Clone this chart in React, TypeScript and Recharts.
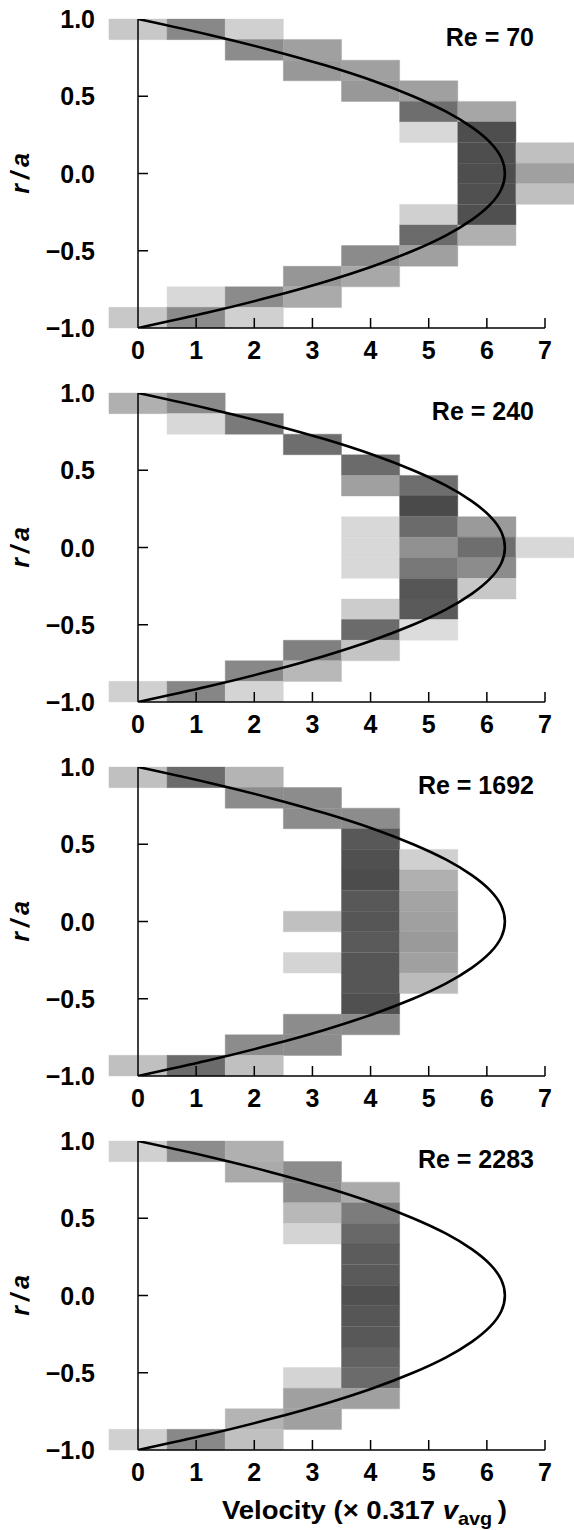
import React from 'react';
import { ComposedChart, Line, XAxis, YAxis, ReferenceArea } from 'recharts';

// velocity bins (x, unit 0.317 v_avg) and radial bins (r/a, 15 rows from top to bottom)
const VELOCITY_BINS = [0, 1, 2, 3, 4, 5, 6, 7];
const RADIUS_BINS = [0.933, 0.8, 0.667, 0.533, 0.4, 0.267, 0.133, 0, -0.133, -0.267, -0.4, -0.533, -0.667, -0.8, -0.933];
const X_TICKS = [0, 1, 2, 3, 4, 5, 6, 7];
const Y_TICKS = [-1, -0.5, 0, 0.5, 1];

// relative density in each (radius row, velocity bin); 0 = empty
const re70 = [
  [0.19, 0.59, 0.14, 0, 0, 0, 0, 0],
  [0, 0, 0.56, 0.44, 0, 0, 0, 0],
  [0, 0, 0, 0.49, 0.44, 0, 0, 0],
  [0, 0, 0, 0, 0.49, 0.44, 0, 0],
  [0, 0, 0, 0, 0, 0.75, 0.4, 0],
  [0, 0, 0, 0, 0, 0.09, 0.95, 0],
  [0, 0, 0, 0, 0, 0, 0.95, 0.24],
  [0, 0, 0, 0, 0, 0, 0.95, 0.44],
  [0, 0, 0, 0, 0, 0, 0.94, 0.24],
  [0, 0, 0, 0, 0, 0.14, 0.94, 0],
  [0, 0, 0, 0, 0, 0.77, 0.34, 0],
  [0, 0, 0, 0, 0.57, 0.44, 0, 0],
  [0, 0, 0, 0.5, 0.39, 0, 0, 0],
  [0, 0.09, 0.57, 0.375, 0, 0, 0, 0],
  [0.19, 0.57, 0.14, 0, 0, 0, 0, 0],
];

const re240 = [
  [0.34, 0.57, 0, 0, 0, 0, 0, 0],
  [0, 0.09, 0.675, 0, 0, 0, 0, 0],
  [0, 0, 0, 0.75, 0, 0, 0, 0],
  [0, 0, 0, 0, 0.77, 0, 0, 0],
  [0, 0, 0, 0, 0.44, 0.75, 0, 0],
  [0, 0, 0, 0, 0, 0.975, 0, 0],
  [0, 0, 0, 0, 0.09, 0.77, 0.475, 0],
  [0, 0, 0, 0, 0.09, 0.53, 0.75, 0.09],
  [0, 0, 0, 0, 0.09, 0.69, 0.56, 0],
  [0, 0, 0, 0, 0, 0.9, 0.19, 0],
  [0, 0, 0, 0, 0.16, 0.875, 0, 0],
  [0, 0, 0, 0, 0.77, 0.06, 0, 0],
  [0, 0, 0, 0.64, 0.21, 0, 0, 0],
  [0, 0, 0.59, 0.29, 0, 0, 0, 0],
  [0.14, 0.6, 0.11, 0, 0, 0, 0, 0],
];

const re1692 = [
  [0.24, 0.77, 0.31, 0, 0, 0, 0, 0],
  [0, 0, 0.56, 0.56, 0, 0, 0, 0],
  [0, 0, 0, 0.56, 0.56, 0, 0, 0],
  [0, 0, 0, 0, 0.89, 0, 0, 0],
  [0, 0, 0, 0, 0.94, 0.14, 0, 0],
  [0, 0, 0, 0, 0.96, 0.34, 0, 0],
  [0, 0, 0, 0, 0.89, 0.41, 0, 0],
  [0, 0, 0, 0.24, 0.9, 0.44, 0, 0],
  [0, 0, 0, 0, 0.875, 0.475, 0, 0],
  [0, 0, 0, 0.11, 0.9, 0.44, 0, 0],
  [0, 0, 0, 0, 0.9, 0.27, 0, 0],
  [0, 0, 0, 0, 0.94, 0, 0, 0],
  [0, 0, 0, 0.56, 0.56, 0, 0, 0],
  [0, 0, 0.56, 0.56, 0, 0, 0, 0],
  [0.24, 0.77, 0.24, 0, 0, 0, 0, 0],
];

const re2283 = [
  [0.14, 0.56, 0.34, 0, 0, 0, 0, 0],
  [0, 0, 0.375, 0.56, 0, 0, 0, 0],
  [0, 0, 0, 0.56, 0.375, 0, 0, 0],
  [0, 0, 0, 0.29, 0.66, 0, 0, 0],
  [0, 0, 0, 0.11, 0.79, 0, 0, 0],
  [0, 0, 0, 0, 0.86, 0, 0, 0],
  [0, 0, 0, 0, 0.875, 0, 0, 0],
  [0, 0, 0, 0, 0.94, 0, 0, 0],
  [0, 0, 0, 0, 0.9, 0, 0, 0],
  [0, 0, 0, 0, 0.89, 0, 0, 0],
  [0, 0, 0, 0, 0.825, 0, 0, 0],
  [0, 0, 0, 0.11, 0.77, 0, 0, 0],
  [0, 0, 0, 0.44, 0.44, 0, 0, 0],
  [0, 0, 0.31, 0.44, 0, 0, 0, 0],
  [0.14, 0.59, 0.24, 0, 0, 0, 0, 0],
];

// laminar (Poiseuille) profile
const profileR = [-1, -0.9, -0.8, -0.7, -0.6, -0.5, -0.4, -0.3, -0.2, -0.1, 0, 0.1, 0.2, 0.3, 0.4, 0.5, 0.6, 0.7, 0.8, 0.9, 1];
const profileV = [0, 1.2, 2.27, 3.22, 4.04, 4.73, 5.3, 5.74, 6.06, 6.25, 6.31, 6.25, 6.06, 5.74, 5.3, 4.73, 4.04, 3.22, 2.27, 1.2, 0];

const panels = [
  { label: 'Re = 70', cells: re70 },
  { label: 'Re = 240', cells: re240 },
  { label: 'Re = 1692', cells: re1692 },
  { label: 'Re = 2283', cells: re2283 },
];

const FONT = '"Liberation Sans", Arial, Helvetica, sans-serif';
const PANEL_H = 374;
const LAST_H = 408;
const TOP = 19;
const PLOT_H = 309;
const PLOT_LEFT = 138;
const RIGHT = 29;
const ROW_HALF = 1 / 15;

const grey = (d: number) => {
  const g = Math.round(230 - d * 160);
  return `rgb(${g},${g},${g})`;
};

const fmt = (v: number) => (v < 0 ? '\u2212' + Math.abs(v).toFixed(1) : v.toFixed(1));

const YTick = (props: any) => {
  const { y, payload } = props;
  const v = payload.value;
  return (
    <g>
      {Math.abs(v) < 1 && (
        <line x1={PLOT_LEFT} x2={PLOT_LEFT + 10} y1={y} y2={y} stroke="#000" strokeWidth={1.5} />
      )}
      <text x={PLOT_LEFT - 43} y={y + 9} textAnchor="end" fontFamily={FONT} fontWeight="bold" fontSize={25} fill="#000">
        {fmt(v)}
      </text>
    </g>
  );
};

const XTick = (props: any) => {
  const { x, payload } = props;
  const axisY = TOP + PLOT_H;
  return (
    <g>
      {payload.value !== 0 && (
        <line x1={x} x2={x} y1={axisY} y2={axisY - 10} stroke="#000" strokeWidth={1.5} />
      )}
      <text x={x} y={axisY + 31} textAnchor="middle" fontFamily={FONT} fontWeight="bold" fontSize={25} fill="#000">
        {payload.value}
      </text>
    </g>
  );
};

function Panel({ label, cells, last }: { label: string; cells: number[][]; last: boolean }) {
  const h = last ? LAST_H : PANEL_H;
  const data = profileR.map((r, i) => ({ v: profileV[i], r }));
  const midY = TOP + PLOT_H / 2;
  return (
    <ComposedChart width={574} height={h} data={data} margin={{ top: TOP, right: RIGHT, bottom: 0, left: 0 }}>
      {cells.map((row, ri) =>
        row.map((d, ci) =>
          d > 0 ? (
            <ReferenceArea
              key={`${ri}-${ci}`}
              x1={VELOCITY_BINS[ci] - 0.5}
              x2={VELOCITY_BINS[ci] + 0.5}
              y1={RADIUS_BINS[ri] - ROW_HALF}
              y2={RADIUS_BINS[ri] + ROW_HALF}
              fill={grey(d)}
              fillOpacity={1}
              stroke={grey(d)}
              strokeWidth={0.4}
              ifOverflow="visible"
            />
          ) : null
        )
      )}
      <XAxis
        type="number"
        dataKey="v"
        domain={[0, 7]}
        allowDataOverflow
        ticks={X_TICKS}
        interval={0}
        height={h - TOP - PLOT_H}
        axisLine={{ stroke: '#000', strokeWidth: 1.5 }}
        tickLine={false}
        tick={XTick}
      />
      <YAxis
        type="number"
        domain={[-1, 1]}
        allowDataOverflow
        ticks={Y_TICKS}
        interval={0}
        width={PLOT_LEFT}
        axisLine={{ stroke: '#000', strokeWidth: 1.5 }}
        tickLine={false}
        tick={YTick}
      />
      <Line
        type="natural"
        dataKey="r"
        stroke="#000"
        strokeWidth={2.6}
        dot={false}
        isAnimationActive={false}
      />
      <text x={534} y={TOP + 27} textAnchor="end" fontFamily={FONT} fontWeight="bold" fontSize={25} fill="#000">
        {label}
      </text>
      <text
        x={20}
        y={midY}
        transform={`rotate(-90 20 ${midY})`}
        textAnchor="middle"
        dominantBaseline="central"
        fontFamily={FONT}
        fontWeight="bold"
        fontStyle="italic"
        fontSize={25}
        fill="#000"
      >
        {'r\u2009/\u2009a'}
      </text>
      {last && (
        <g transform={`translate(222 ${TOP + PLOT_H + 69}) scale(1.1 1)`}>
          <text x={0} y={0} fontFamily={FONT} fontWeight="bold" fontSize={25} fill="#000">
            <tspan>Velocity (× 0.317 </tspan>
            <tspan fontStyle="italic">v</tspan>
            <tspan fontSize={18} dy={6}>avg</tspan>
            <tspan dy={-6}>{'\u2009)'}</tspan>
          </text>
        </g>
      )}
    </ComposedChart>
  );
}

export default function App() {
  return (
    <div style={{ width: 574, background: '#fff' }}>
      <style>{'body{margin:0;background:#fff}'}</style>
      {panels.map((p, i) => (
        <Panel key={p.label} label={p.label} cells={p.cells} last={i === panels.length - 1} />
      ))}
    </div>
  );
}
